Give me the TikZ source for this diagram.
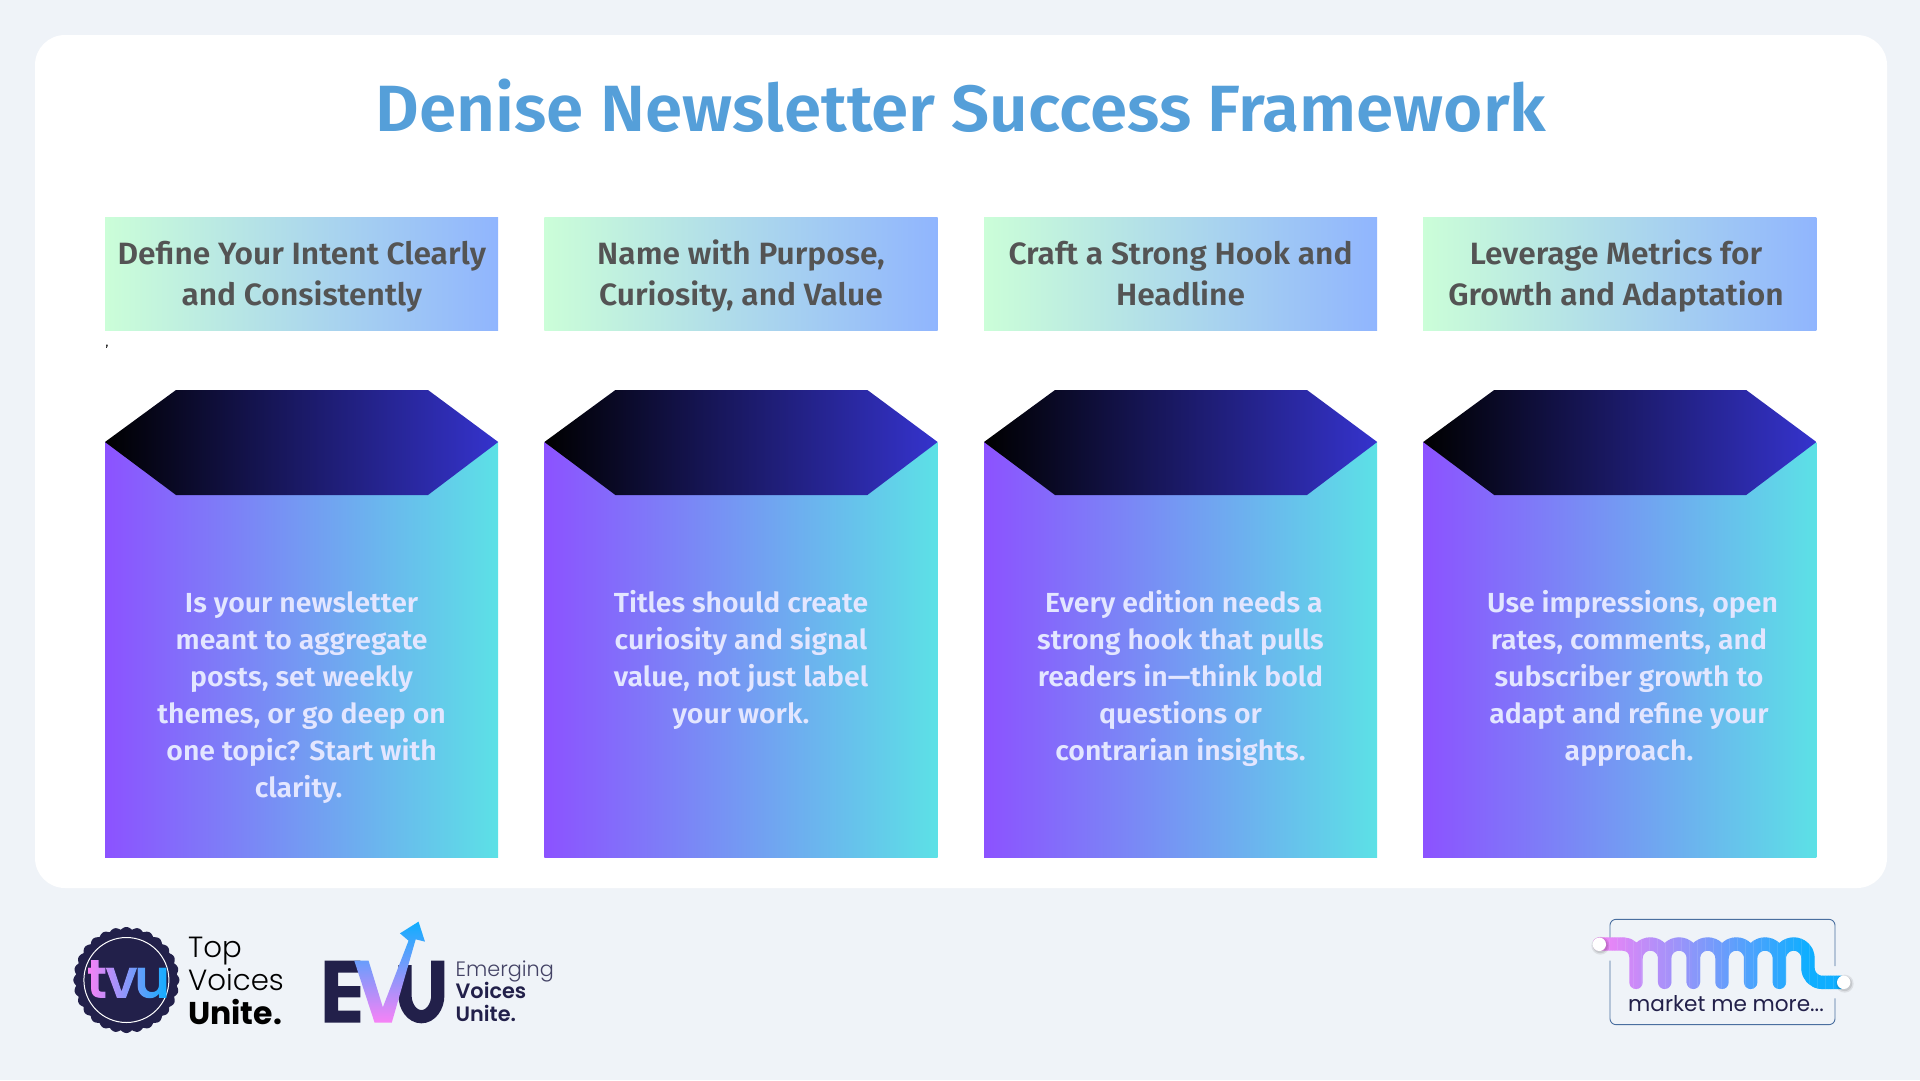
\documentclass[tikz,border=0pt]{standalone}
\usepackage{fontspec}
\usetikzlibrary{fadings}
\setmainfont{Fira Sans}
\newfontfamily\semib[FakeStretch=1.03]{Fira Sans SemiBold}
\newfontfamily\popl{Poppins Light}
\newfontfamily\popr{Poppins}
\newfontfamily\pops{Poppins SemiBold}
\newfontfamily\popb{Poppins Bold}
\definecolor{pagebg}{HTML}{EFF3F8}
\definecolor{titleblue}{HTML}{559FD9}
\definecolor{headgray}{HTML}{545454}
\definecolor{bodytext}{HTML}{E3E6FF}
\definecolor{navy}{HTML}{22204A}
\definecolor{gradpink}{HTML}{F882F6}
\definecolor{gradblue}{HTML}{0FAEFF}
\definecolor{boxline}{HTML}{4A6FA0}
\tikzset{
  headtext/.style={inner sep=0pt, anchor=north, align=center, text=headgray,
    font=\fontsize{30.8}{41}\selectfont\semib},
  bodytxt/.style={inner sep=0pt, anchor=north, align=center, text=bodytext,
    font=\fontsize{27.6}{37}\selectfont\semib},
  logotext/.style={inner sep=0pt, anchor=base west},
}
\newcommand\colblock[6]{%
  % #1 name, #2 left x, #3 header centre, #4 header, #5 body centre, #6 body
  \pgfmathsetmacro\xr{#2+393.2}
  \pgfmathsetmacro\xa{#2+71}
  \pgfmathsetmacro\xb{#2+323}
  \shade[left color=headL, right color=headR] (#2,217) rectangle (\xr,330.6);
  \shade[left color=bodyL, right color=bodyR] (#2,442) rectangle (\xr,857);
  \shade[left color=black, right color=hexR] (#2,442) -- (\xa,390) -- (\xb,390) -- (\xr,442) -- (\xb,495) -- (\xa,495) -- cycle;
  \node[headtext] (#1h) at (#3,236.6) {\rule{0pt}{28pt}#4};
  \node[bodytxt] (#1b) at (#5,586.7) {\rule{0pt}{26pt}#6};
}
\definecolor{headL}{HTML}{CBFED8}
\definecolor{headR}{HTML}{90B5FE}
\definecolor{bodyL}{HTML}{8C52FF}
\definecolor{bodyR}{HTML}{5CE1E6}
\definecolor{hexR}{HTML}{3533CD}
\begin{tikzfadingfrompicture}[name=tvufade]
  \node[inner sep=0pt, text=transparent!0, font=\fontsize{55}{55}\selectfont\pops] at (0,0) {\addfontfeature{LetterSpace=-6}tvu};
\end{tikzfadingfrompicture}
\begin{document}
\begin{tikzpicture}[x=1pt,y=-1pt]
\useasboundingbox (0,0) rectangle (1920,1080);
\fill[pagebg] (0,0) rectangle (1920,1080);
\fill[white, rounded corners=30pt] (35,35) rectangle (1887,888);
\node[inner sep=0pt, anchor=base, text=titleblue, font=\fontsize{65.4}{70}\selectfont\semib] (title) at (961,131) {Denise Newsletter Success Framework};

\colblock{a}{105}{301.8}{Define Your Intent Clearly\\and Consistently}{301.6}{Is your newsletter\\meant to aggregate\\posts, set weekly\\themes, or go deep on\\one topic? Start with\\clarity.\hspace*{6pt}}
\colblock{b}{544.4}{741}{Name with Purpose,\\Curiosity, and Value}{741}{Titles should create\\curiosity and signal\\value, not just label\\your work.}
\colblock{c}{984}{1180.5}{Craft a Strong Hook and\\Headline}{1180.5}{\hspace*{7pt}Every edition needs a\\strong hook that pulls\\readers in—think bold\\questions or\\contrarian insights.}
\colblock{d}{1423.2}{1616}{Leverage Metrics for\\Growth and Adaptation}{1629}{\hspace*{7pt}Use impressions, open\\rates, comments, and\\subscriber growth to\\adapt and refine your\\approach.}
\node[inner sep=0pt, text=black, font=\fontsize{12}{12}\selectfont] (tick) at (107,347) {,};

% --- tvu badge
\fill[navy] plot[domain=0:360, samples=500, smooth] ({126.4+(50.5+2.5*abs(cos(14*\x)))*cos(\x)}, {980+(50.5+2.5*abs(cos(14*\x)))*sin(\x)}) -- cycle;
\draw[white, line width=1pt] (126.4,980) circle (42.5);
\shade[path fading=tvufade, fit fading=false, fading transform={shift={(129,980)}}, left color=gradpink, right color=gradblue] (88,950) rectangle (168,1010);
\node[logotext, text=black, font=\fontsize{29.2}{31}\selectfont\popl] (tv1) at (188,957) {Top};
\node[logotext, text=black, font=\fontsize{29.2}{31}\selectfont\popl] (tv2) at (188,990.5) {Voices};
\node[logotext, text=black, font=\fontsize{31.5}{31}\selectfont\popb] (tv3) at (188,1024) {Unite.};

% --- EVU mark
\begin{scope}[shift={(40,900)}, xscale=1/2.8, yscale=1/3]
  \fill[navy] (797,182) -- (897,182) -- (897,218) -- (835,218) -- (835,258) -- (897,258) -- (897,292) -- (835,292) -- (835,332) -- (897,332) -- (897,368) -- (797,368) -- cycle;
  \draw[navy, line width=13.2pt] (1022,195) -- (1022,285) arc[start angle=180, end angle=0, x radius=46, y radius=65] -- (1114,182);
  \shade[bottom color=gradpink, top color=gradblue] (880,182) -- (920,182) -- (960,322) -- (1032,122) -- (1008,100) -- (1060,65) -- (1078,125) -- (1052,118) -- (985,368) -- (937,368) -- cycle;
\end{scope}
\node[logotext, text=navy!85, font=\fontsize{20.8}{20}\selectfont\popl] (ev1) at (455.5,976) {Emerging};
\node[logotext, text=navy, font=\fontsize{20.8}{20}\selectfont\pops] (ev2) at (455.5,998.5) {Voices};
\node[logotext, text=navy, font=\fontsize{20.8}{20}\selectfont\pops] (ev3) at (455.5,1021.5) {Unite.};

% --- market me more
\begin{scope}[shift={(1560,900)}, x=1pt/3, y=-1pt/3]
  \draw[draw=boxline, line width=0.9pt, rounded corners=6pt] (825,198) -- (825,58) -- (150,58) -- (150,116);
  \draw[draw=boxline, line width=0.9pt, rounded corners=6pt] (150,182) -- (150,374) -- (825,374) -- (825,295);
  \foreach \k in {0,...,92}{
    \pgfmathsetmacro\xl{100+\k*8}
    \pgfmathsetmacro\xrr{\xl+9}
    \pgfmathtruncatemacro\p{100-\k*100/80 < 0 ? 0 : 100-\k*100/80}
    \begin{scope}
      \clip (\xl,90) rectangle (\xrr,290);
      \draw[color=gradpink!\p!gradblue, line width=13.4pt, line cap=round, line join=round]
        (118,132) -- (190,132) arc[start angle=270, end angle=360, radius=38] -- (228,247) -- (228,175)
        arc[start angle=180, end angle=360, radius=43] -- (314,247) -- (314,175)
        arc[start angle=180, end angle=360, radius=43] -- (400,247) -- (400,175)
        arc[start angle=180, end angle=360, radius=43] -- (486,247) -- (486,175)
        arc[start angle=180, end angle=360, radius=43] -- (572,247) -- (572,175)
        arc[start angle=180, end angle=360, radius=43] -- (658,247) -- (658,175)
        arc[start angle=180, end angle=360, radius=43] -- (744,205)
        arc[start angle=180, end angle=90, radius=42] -- (851,247);
    \end{scope}
  }
  \foreach \cx/\cy in {118/133, 851/247}{
    \fill[black, opacity=.08] (\cx+3,\cy+4) circle (9pt);
    \fill[black, opacity=.10] (\cx+3,\cy+4) circle (7.5pt);
    \fill[white] (\cx,\cy) circle (6.7pt);
  }
\end{scope}
\node[inner sep=0pt, anchor=base west, text=navy, font=\fontsize{21.6}{20}\selectfont\popr] (mm) at (1628,1011) {market me more...};
\end{tikzpicture}
\end{document}
